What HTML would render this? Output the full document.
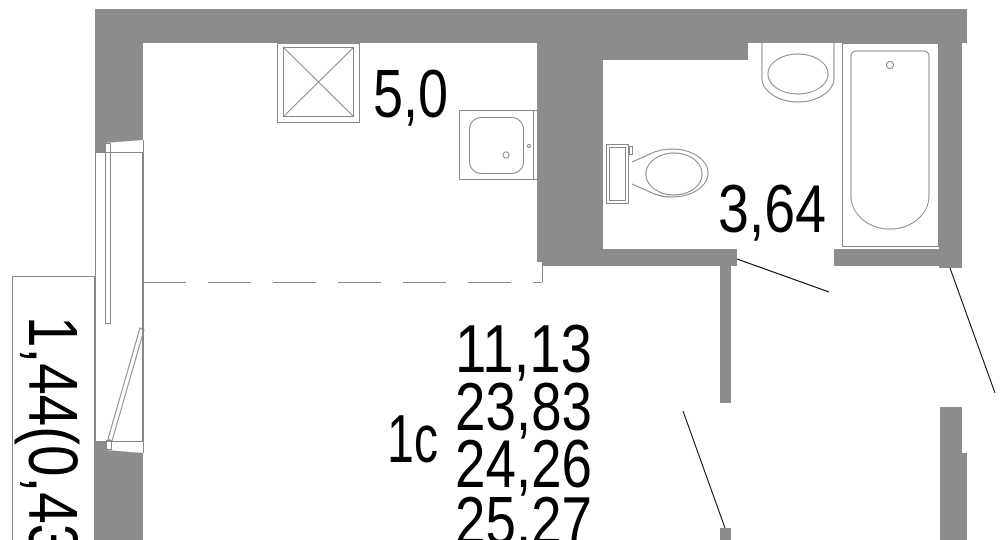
<!DOCTYPE html>
<html><head><meta charset="utf-8"><style>html,body{margin:0;padding:0;background:#fff;width:1001px;height:540px;overflow:hidden}svg{display:block}</style></head>
<body>
<svg width="1001" height="540" viewBox="0 0 1001 540" xmlns="http://www.w3.org/2000/svg" font-family="Liberation Sans, sans-serif" overflow="hidden">
<rect width="1001" height="540" fill="#fff"/>
<g fill="#8c8c8c">
<rect x="95" y="9" width="872" height="34"/>
<polygon points="95,43 143,43 143,140 105,143 105,152 95,152"/>
<polygon points="95,441 106,441 106,450 143,453 143,540 95,540"/>
<rect x="537" y="43" width="66" height="219"/>
<rect x="542" y="43" width="206" height="17"/>
<rect x="542" y="249" width="195" height="17"/>
<rect x="834" y="249" width="105" height="17"/>
<rect x="939" y="43" width="23" height="225"/>
<rect x="720" y="266" width="11" height="137"/>
<rect x="720" y="528" width="11" height="12"/>
<rect x="940" y="407" width="22" height="133"/>
<rect x="940" y="453" width="27" height="87"/>
</g>
<g fill="none" stroke="#888" stroke-width="1">
<rect x="95.5" y="152.5" width="47" height="289"/>
<line x1="143.5" y1="140" x2="143.5" y2="453"/>
<rect x="105.5" y="143.5" width="5" height="180"/>
<polygon points="140,328 144,330 112,441 108,439"/>
<rect x="106.5" y="440.5" width="5" height="9"/>
<rect x="12.5" y="276.5" width="82" height="280"/>
<line x1="143" y1="282.5" x2="542" y2="282.5" stroke-dasharray="43,22"/>
<line x1="542.5" y1="262" x2="542.5" y2="282"/>
<rect x="277.5" y="43.5" width="82" height="79"/>
<rect x="283.5" y="47.5" width="70" height="69"/>
<line x1="283" y1="47" x2="354" y2="117"/><line x1="354" y1="47" x2="283" y2="117"/>
<rect x="459.5" y="110.5" width="78" height="69"/>
<line x1="533.5" y1="110" x2="533.5" y2="179"/>
<rect x="469.5" y="117.5" width="54" height="56" rx="12"/>
<circle cx="506" cy="155" r="3"/>
<circle cx="529" cy="146" r="1.5"/>
<path d="M762,43 V78 A36,24 0 0 0 834,78 V43"/>
<ellipse cx="798" cy="74" rx="30" ry="20"/>
<rect x="842.5" y="43.5" width="96" height="203"/>
<path d="M851,56 a5,5 0 0 1 5,-5 h68 a5,5 0 0 1 5,5 V196 a39,33 0 0 1 -78,0 Z"/>
<circle cx="890" cy="65" r="3.5"/>
<rect x="606.5" y="144.5" width="22" height="59"/>
<rect x="609.5" y="147.5" width="16" height="53"/>
<rect x="629.5" y="146.5" width="3" height="8"/>
<path d="M632,162 L650,154 A36,24 0 1 1 650,192 L632,184"/>
<ellipse cx="674" cy="174" rx="28" ry="21"/>
</g>
<g stroke="#000" stroke-width="1">
<line x1="737" y1="259" x2="829" y2="292"/>
<line x1="950" y1="268" x2="995" y2="393"/>
<line x1="683" y1="411" x2="725" y2="528"/>
</g>
<g fill="#000" font-size="68">
<text x="373" y="117" textLength="75" lengthAdjust="spacingAndGlyphs">5,0</text>
<text x="718" y="232" textLength="108" lengthAdjust="spacingAndGlyphs">3,64</text>
<text x="387" y="462" textLength="51" lengthAdjust="spacingAndGlyphs">1c</text>
<text x="455" y="372" textLength="137" lengthAdjust="spacingAndGlyphs">11,13</text>
<text x="455" y="430" textLength="137" lengthAdjust="spacingAndGlyphs">23,83</text>
<text x="455" y="487" textLength="137" lengthAdjust="spacingAndGlyphs">24,26</text>
<text x="455" y="544" textLength="137" lengthAdjust="spacingAndGlyphs">25,27</text>
<text transform="translate(29,316) rotate(90)" font-size="70" textLength="258" lengthAdjust="spacingAndGlyphs">1,44(0,43)</text>
</g>
</svg>
</body></html>
